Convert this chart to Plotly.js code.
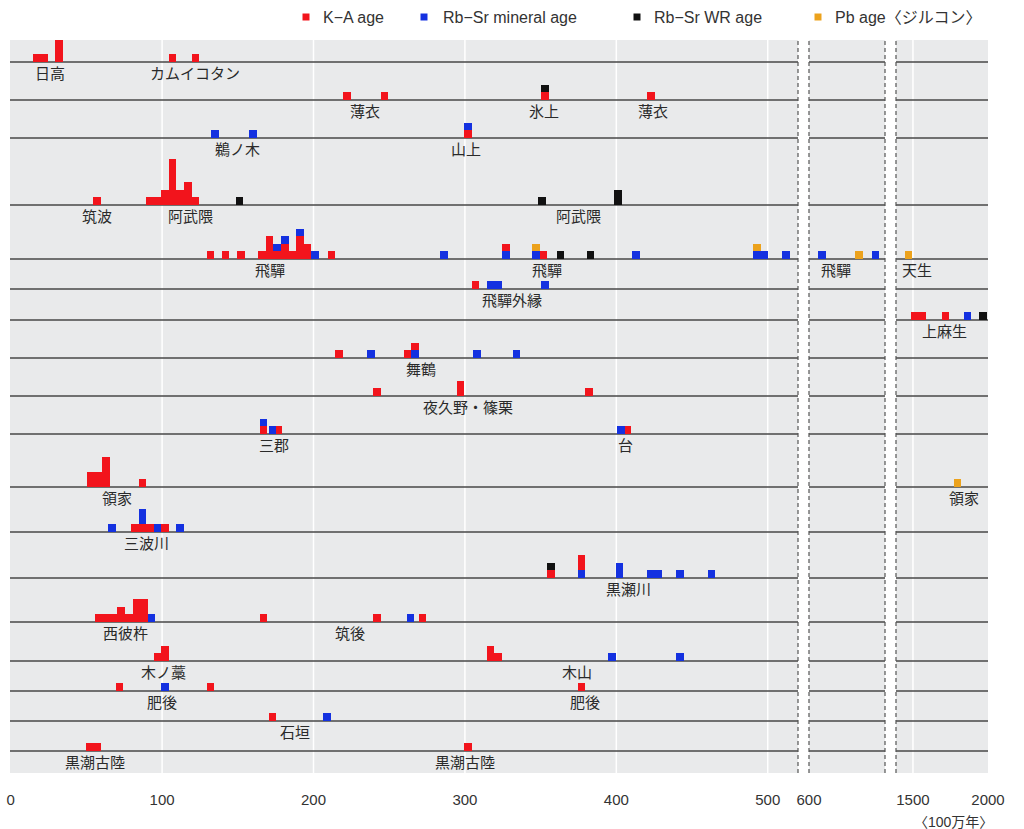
<!DOCTYPE html>
<html><head><meta charset="utf-8">
<script src="https://cdn.plot.ly/plotly-3.0.1.min.js"></script>
<style>html,body{margin:0;padding:0;background:#fff}#chart{width:1024px;height:829px}</style>
</head><body><div id="chart"></div>
<script>
// ---------- DATA (ages in million years; [row, age, count, stack level]) ----------
const seriesNames = ['K\u2212A age', 'Rb\u2212Sr mineral age', 'Rb\u2212Sr WR age', 'Pb age\u3008ジルコン\u3009'];
const seriesColors = ['#f2141c', '#1431e0', '#111111', '#eca21c'];

const kaData = [
  [0,17,1,0],[0,22,1,0],[0,32,3,0],[0,107,1,0],[0,122,1,0],
  [1,222,1,0],[1,247,1,0],[1,353,1,0],[1,423,1,0],
  [2,302,1,0],
  [3,57,1,0],[3,92,1,0],[3,97,1,0],[3,102,2,0],[3,107,6,0],[3,112,2,0],[3,117,3,0],[3,122,1,0],
  [4,132,1,0],[4,142,1,0],[4,152,1,0],[4,166,1,0],[4,171,3,0],[4,176,1,0],[4,181,2,0],[4,186,1,0],[4,191,3,0],[4,196,2,0],[4,212,1,0],[4,327,1,1],[4,352,1,0],
  [5,307,1,0],
  [6,1513,1,0],[6,1565,1,0],[6,1717,1,0],
  [7,217,1,0],[7,262,1,0],[7,267,1,1],
  [8,242,1,0],[8,297,2,0],[8,382,1,0],
  [9,167,1,0],[9,177,1,0],[9,407,1,0],
  [10,53,2,0],[10,58,2,0],[10,63,4,0],[10,87,1,0],
  [11,82,1,0],[11,87,1,0],[11,92,1,0],[11,102,1,0],
  [12,357,1,0],[12,377,2,1],
  [13,58,1,0],[13,63,1,0],[13,68,1,0],[13,73,2,0],[13,78,1,0],[13,83,3,0],[13,88,3,0],[13,167,1,0],[13,242,1,0],[13,272,1,0],
  [14,97,1,0],[14,102,2,0],[14,317,2,0],[14,322,1,0],
  [15,72,1,0],[15,132,1,0],[15,377,1,0],
  [16,173,1,0],
  [17,52,1,0],[17,57,1,0],[17,302,1,0]
];
const rbMineralData = [
  [2,135,1,0],[2,160,1,0],[2,302,1,1],
  [4,176,1,1],[4,181,1,2],[4,191,1,3],[4,201,1,0],[4,286,1,0],[4,327,1,0],[4,347,1,0],[4,413,1,0],[4,493,1,0],[4,498,1,0],[4,512,1,0],[4,685,1,0],[4,1039,1,0],
  [5,317,1,0],[5,322,1,0],[5,353,1,0],
  [6,1863,1,0],
  [7,238,1,0],[7,267,1,0],[7,308,1,0],[7,334,1,0],
  [9,167,1,1],[9,173,1,0],[9,403,1,0],
  [11,67,1,0],[11,87,2,1],[11,97,1,0],[11,112,1,0],
  [12,377,1,0],[12,402,2,0],[12,423,1,0],[12,428,1,0],[12,442,1,0],[12,463,1,0],
  [13,93,1,0],[13,264,1,0],
  [14,397,1,0],[14,442,1,0],
  [15,102,1,0],
  [16,209,1,0]
];
const rbWRData = [
  [1,353,1,1],[3,151,1,0],[3,351,1,0],[3,401,2,0],[4,363,1,0],[4,383,1,0],[6,1967,1,0],[12,357,1,1]
];
const pbData = [
  [4,347,1,1],[4,493,1,1],[4,929,1,0],[4,1471,1,0],[10,1798,1,0]
];

// region labels
const labelText = ['日高','カムイコタン','薄衣','氷上','薄衣','鵜ノ木','山上','筑波','阿武隈','阿武隈',
  '飛驒','飛驒','飛驒','天生','飛驒外縁','上麻生','舞鶴','夜久野・篠栗','三郡','台','領家','領家',
  '三波川','黒瀬川','西彼杵','筑後','木ノ藁','木山','肥後','肥後','石垣','黒潮古陸','黒潮古陸'];
const labelRow = [0,0,1,1,1,2,2,3,3,3,4,4,4,4,5,6,7,8,9,9,10,10,11,12,13,13,14,14,15,15,16,17,17];
const labelAge = [26,122,234,352,424,150,301,57,119,375,171,354,778,1527,331,1710,271,302,174,406,70,1837,
  90,408,76,224,101,374,100,379,188,56,300];

// axis ticks per segment
const segTicks = [[0,100,200,300,400,500],[600],[1500,2000]];

// ---------- LAYOUT GEOMETRY ----------
const W = 1024, H = 829, L = 10, R = 988, T = 40, B = 773;
const unitPx = 7.6;
const yMax = (B - T) / unitPx;
const rowBase = [62,100,138,205,259,289,320,358,396,434,487,532,578,622,661,691,721,751].map(p => (B - p) / unitPx);
const segPx = [[10,798],[809,885],[896,988]];
const segRanges = [[-0.46,520.0],[600,1100],[1387,2000]];
const segWidth = [5, 48, 48];
const axNames = ['x','x2','x3'];
const px2x = p => (p - L) / (R - L);
const px2y = p => (B - p) / (B - T);
function segOf(age){ return age <= segRanges[0][1] ? 0 : (age <= segRanges[1][1] ? 1 : 2); }

const CJK = '"Noto Sans CJK JP", "Noto Sans CJK SC", sans-serif';
const LAT = '"Liberation Sans", Arial, "Noto Sans CJK JP", sans-serif';
const textCol = '#2a2a2a';

// ---------- TRACES ----------
const traces = [];
[kaData, rbMineralData, rbWRData, pbData].forEach((data, s) => {
  for (let g = 0; g < 3; g++) {
    const d = data.filter(e => segOf(e[1]) === g);
    if (!d.length) continue;
    traces.push({
      type: 'bar', name: seriesNames[s], showlegend: false,
      x: d.map(e => e[1]), y: d.map(e => e[2]),
      base: d.map(e => rowBase[e[0]] + e[3]),
      width: segWidth[g], xaxis: axNames[g], yaxis: 'y',
      marker: {color: seriesColors[s], line: {width: 0}},
      hovertemplate: seriesNames[s] + ': %{x} Ma<extra></extra>'
    });
  }
});
// tick dots
for (let g = 0; g < 3; g++) {
  traces.push({type:'scatter', mode:'markers', x: segTicks[g], y: segTicks[g].map(() => -11 / unitPx),
    xaxis: axNames[g], yaxis:'y', cliponaxis:false, showlegend:false, hoverinfo:'skip',
    marker:{size:3, color:'#333'}});
}

// ---------- SHAPES ----------
const shapes = [];
for (let g = 0; g < 3; g++) {
  shapes.push({type:'rect', xref: axNames[g] + ' domain', yref:'paper', x0:0, x1:1, y0:0, y1:1,
    fillcolor:'#e9eaeb', line:{width:0}, layer:'below'});
  segTicks[g].forEach(t => {
    if (t > segRanges[g][0] + 1 && t < segRanges[g][1] - 1)
      shapes.push({type:'line', xref: axNames[g], yref:'paper', x0:t, x1:t, y0:0, y1:1,
        line:{color:'#ffffff', width:1.5}, layer:'below'});
  });
}
rowBase.forEach(b => {
  for (let g = 0; g < 3; g++) {
    shapes.push({type:'line', xref: axNames[g] + ' domain', yref:'paper', x0:0, x1:1, y0:b / yMax, y1:b / yMax,
      line:{color:'#474747', width:1.5}, layer:'below'});
  }
});
[[0,1],[1,0],[1,1],[2,0]].forEach(([g, xd]) => {
  shapes.push({type:'line', xref: axNames[g] + ' domain', yref:'paper', x0:xd, x1:xd, y0:0, y1:1,
    line:{color:'#555', width:1.2, dash:'4px,3px'}, layer:'above'});
});
// legend squares
const legendPx = [306, 424, 637, 818];
const legendTextPx = [321, 441, 652, 833];
legendPx.forEach((p, i) => {
  shapes.push({type:'rect', xref:'paper', yref:'paper', x0:px2x(p - 3.5), x1:px2x(p + 3.5),
    y0:px2y(20.5), y1:px2y(13.5), fillcolor: seriesColors[i], line:{width:0}});
});

// ---------- ANNOTATIONS ----------
const annotations = [];
labelText.forEach((t, i) => {
  const g = segOf(labelAge[i]);
  annotations.push({text: t, x: labelAge[i], y: rowBase[labelRow[i]] - 10.5 / unitPx,
    xref: axNames[g], yref:'y', showarrow:false, xanchor:'center', yanchor:'middle',
    font:{family: CJK, size:15, color: textCol}});
});
seriesNames.forEach((t, i) => {
  annotations.push({text: t, x: px2x(legendTextPx[i]), y: px2y(17), xref:'paper', yref:'paper',
    showarrow:false, xanchor:'left', yanchor:'middle', font:{family: LAT, size:16, color:'#333'}});
});
annotations.push({text:'\u3008100万年\u3009', x: px2x(953), y: px2y(822), xref:'paper', yref:'paper',
  showarrow:false, xanchor:'center', yanchor:'middle', font:{family: LAT, size:14, color:'#333'}});

// ---------- AXES ----------
function xa(g){
  return {domain:[px2x(segPx[g][0]), px2x(segPx[g][1])], range: segRanges[g], anchor:'y',
    tickvals: segTicks[g], ticktext: segTicks[g].map(String), showgrid:false, zeroline:false,
    showline:false, ticks:'', ticklabelstandoff: 16,
    tickfont:{family: LAT, size:15, color:'#333'}, fixedrange:true};
}
const layout = {
  width: W, height: H, margin:{l:L, r:W - R, t:T, b:H - B},
  paper_bgcolor:'#ffffff', plot_bgcolor:'rgba(0,0,0,0)',
  barmode:'overlay', bargap:0, showlegend:false,
  xaxis: xa(0), xaxis2: xa(1), xaxis3: xa(2),
  yaxis: {range:[0, yMax], visible:false, fixedrange:true},
  shapes: shapes, annotations: annotations
};
Plotly.newPlot('chart', traces, layout, {displayModeBar:false, responsive:false});
</script>
</body></html>
